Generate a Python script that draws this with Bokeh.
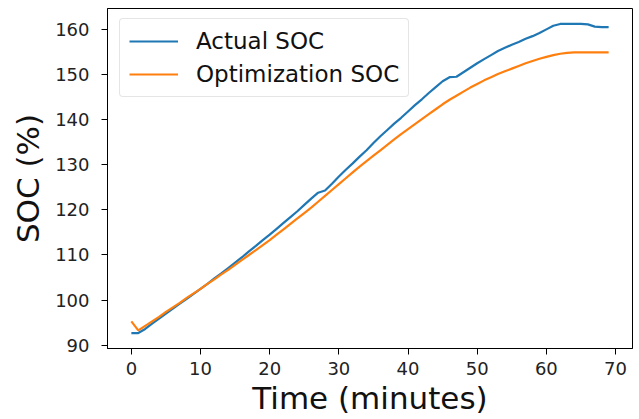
from bokeh.plotting import figure
from bokeh.models import Range1d, Legend, LegendItem, FixedTicker
from bokeh.embed import file_html
from bokeh.resources import INLINE

time_min = list(range(0, 70))
actual_soc = [92.7, 92.7, 93.6, 94.8, 95.9, 97.0, 98.1, 99.2, 100.3, 101.4,
              102.5, 103.6, 104.8, 105.9, 107.1, 108.3, 109.5, 110.8, 112.0, 113.3,
              114.5, 115.8, 117.1, 118.4, 119.7, 121.1, 122.5, 123.8, 124.3, 125.8,
              127.4, 128.9, 130.3, 131.8, 133.2, 134.8, 136.3, 137.7, 139.1, 140.4,
              141.8, 143.2, 144.5, 145.9, 147.2, 148.5, 149.4, 149.5, 150.5, 151.5,
              152.5, 153.4, 154.3, 155.2, 155.9, 156.6, 157.2, 157.9, 158.5, 159.2,
              160.0, 160.8, 161.2, 161.2, 161.2, 161.2, 161.1, 160.6, 160.5, 160.5]
optimization_soc = [95.3, 93.3, 94.3, 95.3, 96.3, 97.4, 98.4, 99.4, 100.5, 101.5,
                    102.5, 103.6, 104.6, 105.7, 106.7, 107.8, 108.9, 110.0, 111.1, 112.2,
                    113.3, 114.5, 115.7, 116.9, 118.1, 119.3, 120.5, 121.8, 123.1, 124.4,
                    125.7, 127.0, 128.3, 129.6, 130.8, 132.0, 133.2, 134.4, 135.6, 136.8,
                    137.9, 139.0, 140.1, 141.2, 142.3, 143.4, 144.4, 145.3, 146.2, 147.1,
                    147.9, 148.7, 149.4, 150.1, 150.7, 151.3, 151.9, 152.5, 153.0, 153.5,
                    153.9, 154.3, 154.6, 154.8, 154.9, 154.9, 154.9, 154.9, 154.9, 154.9]
x_ticks = [0, 10, 20, 30, 40, 50, 60, 70]
y_ticks = [90, 100, 110, 120, 130, 140, 150, 160]
series_names = ["Actual SOC", "Optimization SOC"]
series_colors = ["#1f77b4", "#ff7f0e"]

FONT = "DejaVu Sans"

xmin, xmax = min(time_min), max(time_min)
xpad = (xmax - xmin) * 0.05
allv = actual_soc + optimization_soc
ymin, ymax = min(allv), max(allv)
ypad = (ymax - ymin) * 0.05

p = figure(width=639, height=419, output_backend="svg", toolbar_location=None,
           x_range=Range1d(xmin - xpad, xmax + xpad),
           y_range=Range1d(ymin - ypad, ymax + ypad),
           min_border_left=107, min_border_right=7, min_border_top=8, min_border_bottom=71)

r1 = p.line(time_min, actual_soc, line_color=series_colors[0], line_width=2.2)
r2 = p.line(time_min, optimization_soc, line_color=series_colors[1], line_width=2.2)

p.xgrid.visible = False
p.ygrid.visible = False
p.outline_line_color = "black"
p.outline_line_width = 1
p.background_fill_color = "white"
p.border_fill_color = "white"

p.xaxis.ticker = FixedTicker(ticks=x_ticks)
p.yaxis.ticker = FixedTicker(ticks=y_ticks)
p.xaxis.axis_label = "Time (minutes)"
p.yaxis.axis_label = "SOC (%)"
for ax in (p.xaxis, p.yaxis):
    ax.axis_line_color = "black"
    ax.major_tick_line_color = "black"
    ax.major_tick_out = 6
    ax.major_tick_in = 0
    ax.minor_tick_line_color = None
    ax.major_label_text_font = FONT
    ax.major_label_text_font_size = "18px"
    ax.major_label_text_color = "#222222"
    ax.axis_label_text_font = FONT
    ax.axis_label_text_font_size = "31px"
    ax.axis_label_text_font_style = "normal"
    ax.axis_label_text_color = "#111111"
p.xaxis.major_label_standoff = 7
p.xaxis.axis_label_standoff = 2
p.yaxis.major_label_standoff = 12
p.yaxis.axis_label_standoff = 6

legend = Legend(items=[LegendItem(label=series_names[0], renderers=[r1]),
                       LegendItem(label=series_names[1], renderers=[r2])],
                location=(12, 251))
legend.label_text_font = FONT
legend.label_text_font_size = "23px"
legend.label_text_color = "#111111"
legend.glyph_width = 49
legend.glyph_height = 24
legend.label_height = 24
legend.label_standoff = 18
legend.padding = 9
legend.spacing = 7
legend.margin = 0
legend.border_line_color = "#cccccc"
legend.border_line_width = 1
legend.background_fill_alpha = 0.8
try:
    legend.border_radius = 4
except Exception:
    pass
p.add_layout(legend, "center")

html = file_html(p, INLINE)
open("out.html", "w").write(html)
